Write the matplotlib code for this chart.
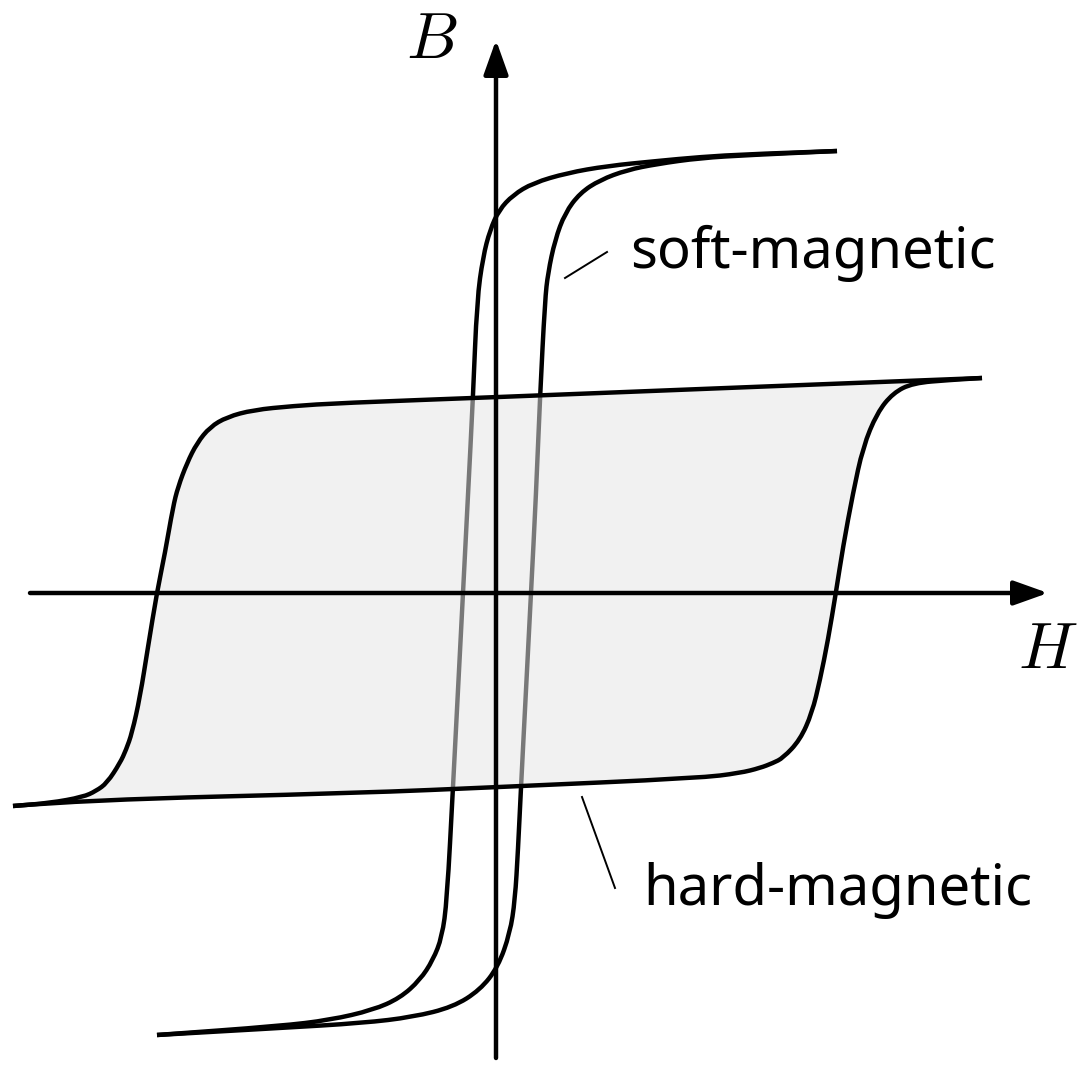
import matplotlib.pyplot as plt
from matplotlib.path import Path
from matplotlib.patches import PathPatch

plt.rcParams['mathtext.fontset'] = 'cm'

# soft-magnetic loop (H, B)
soft_down_h = [3.41, 2.54, 2.04, 1.61, 1.11, 0.71, 0.37, 0.17, 0.03, -0.06, -0.13, -0.19,
               -0.23, -0.28, -0.33, -0.38, -0.43, -0.49, -0.54, -0.63, -0.76, -0.96,
               -1.23, -1.66, -2.16, -3.39]
soft_down_b = [4.42, 4.39, 4.36, 4.32, 4.27, 4.20, 4.10, 3.98, 3.83, 3.63, 3.36, 2.93,
               1.96, 0.98, 0.00, -0.97, -1.94, -3.07, -3.44, -3.67, -3.87, -4.05,
               -4.17, -4.27, -4.33, -4.42]
soft_up_h = [-3.39, -2.16, -1.33, -0.83, -0.43, -0.16, 0.02, 0.14, 0.19, 0.22, 0.25, 0.30,
             0.35, 0.40, 0.44, 0.49, 0.52, 0.59, 0.69, 0.84, 1.04, 1.31, 1.61, 2.04,
             2.54, 3.41]
soft_up_b = [-4.42, -4.35, -4.30, -4.24, -4.14, -3.97, -3.74, -3.40, -3.07, -2.57, -1.94,
             -0.97, 0.00, 0.98, 1.96, 2.93, 3.20, 3.53, 3.80, 4.00, 4.13, 4.23, 4.29,
             4.35, 4.38, 4.42]

# hard-magnetic loop
hard_down_h = [4.86, 2.04, 0.04, -1.56, -2.03, -2.43, -2.69, -2.86, -2.99, -3.09, -3.18,
               -3.23, -3.31, -3.39, -3.48, -3.56, -3.64, -3.70, -3.76, -3.89, -4.00, -4.13,
               -4.46, -4.83]
hard_down_b = [2.15, 2.04, 1.96, 1.90, 1.87, 1.83, 1.76, 1.66, 1.50, 1.30, 1.06,
               0.86, 0.40, 0.01, -0.54, -1.04, -1.40, -1.57, -1.70, -1.90, -1.98, -2.04,
               -2.10, -2.13]
hard_up_h = [-4.83, -4.13, -1.36, 0.04, 2.04, 2.44, 2.64, 2.77, 2.87, 3.04, 3.16, 3.24,
             3.32, 3.40, 3.47, 3.57, 3.67, 3.81, 3.97, 4.17, 4.54, 4.86]
hard_up_b = [-2.13, -2.07, -2.00, -1.94, -1.85, -1.80, -1.75, -1.70, -1.65, -1.47, -1.20,
             -0.87, -0.47, 0.01, 0.46, 1.00, 1.46, 1.80, 2.00, 2.10, 2.13, 2.15]

lw = 3.2


def smooth_path(xs, ys, closed=False):
    # quadratic b-spline through the read points, drawn by matplotlib
    pts = list(zip(xs, ys))
    verts = [pts[0]]
    codes = [Path.MOVETO]
    for i in range(1, len(pts) - 1):
        mid = ((pts[i][0] + pts[i + 1][0]) / 2, (pts[i][1] + pts[i + 1][1]) / 2)
        verts += [pts[i], mid]
        codes += [Path.CURVE3, Path.CURVE3]
    verts.append(pts[-1])
    codes.append(Path.LINETO)
    if closed:
        verts.append(pts[0])
        codes.append(Path.CLOSEPOLY)
    return Path(verts, codes)


fig = plt.figure(figsize=(10.92, 10.8), dpi=100)
ax = fig.add_axes([0, 0, 1, 1])
ax.set_xlim(-4.96, 5.96)
ax.set_ylim(-4.87, 5.93)
ax.axis('off')

# soft loop (under the fill)
for hx, by in [(soft_down_h, soft_down_b), (soft_up_h, soft_up_b)]:
    ax.add_patch(PathPatch(smooth_path(hx, by), fill=False, lw=lw, ec='black', zorder=1))

# hard loop fill and outline
loop_h = hard_down_h + hard_up_h[1:]
loop_b = hard_down_b + hard_up_b[1:]
ax.add_patch(PathPatch(smooth_path(loop_h, loop_b, closed=True), fc='#e5e5e5', alpha=0.53,
                       ec='none', zorder=2))
for hx, by in [(hard_down_h, hard_down_b), (hard_up_h, hard_up_b)]:
    ax.add_patch(PathPatch(smooth_path(hx, by), fill=False, lw=lw, ec='black', zorder=3))

# axes with arrows
arrow = dict(arrowstyle='-|>,head_length=2.1,head_width=0.75', lw=lw, color='black',
             mutation_scale=10, shrinkA=0, shrinkB=0)
ax.annotate('', xy=(5.52, 0), xytext=(-4.66, 0), arrowprops=arrow, zorder=4)
ax.annotate('', xy=(0, 5.53), xytext=(0, -4.65), arrowprops=arrow, zorder=4)
ax.text(-0.64, 5.525, r'$B$', fontsize=47, ha='center', va='center')
ax.text(5.52, -0.575, r'$H$', fontsize=47, ha='center', va='center')

# labels
ax.plot([0.69, 1.11], [3.15, 3.41], color='black', lw=1.4)
ax.plot([0.86, 1.19], [-2.04, -2.95], color='black', lw=1.4)
ax.text(1.34, 3.25, 'soft-magnetic', fontsize=40.5, family='Noto Sans', ha='left', va='baseline')
ax.text(1.47, -3.12, 'hard-magnetic', fontsize=40.5, family='Noto Sans', ha='left', va='baseline')

fig.savefig('out.png', dpi=100)
